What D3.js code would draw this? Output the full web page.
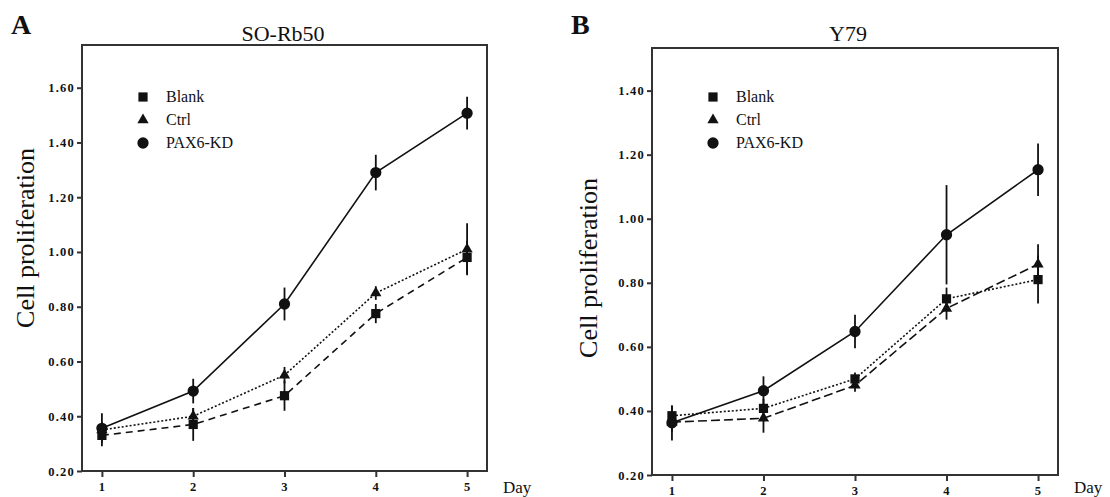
<!DOCTYPE html>
<meta charset="utf-8">
<head>
<style>
  body { margin: 0; background: #fff; }
  text { font-family: "Liberation Serif", "Times New Roman", serif; fill: #111; }
</style>
</head>
<script src="https://d3js.org/d3.v7.min.js"></script>
<body>
<div id="my_dataviz"></div>
<script>
// days on the x axis
var days = [1, 2, 3, 4, 5];
var seriesNames = ["Blank", "Ctrl", "PAX6-KD"];

// panel A: SO-Rb50
var aBlank    = [0.330, 0.370, 0.475, 0.775, 0.980];
var aBlankErr = [0.040, 0.060, 0.055, 0.035, 0.060];
var aCtrl     = [0.350, 0.400, 0.550, 0.850, 1.010];
var aCtrlErr  = [0.030, 0.030, 0.030, 0.025, 0.095];
var aPax      = [0.356, 0.492, 0.810, 1.290, 1.507];
var aPaxErr   = [0.055, 0.045, 0.060, 0.065, 0.060];
var aTicks    = [0.20, 0.40, 0.60, 0.80, 1.00, 1.20, 1.40, 1.60];

// panel B: Y79
var bBlank    = [0.385, 0.408, 0.500, 0.750, 0.810];
var bBlankErr = [0.030, 0.030, 0.020, 0.035, 0.075];
var bCtrl     = [0.365, 0.377, 0.480, 0.720, 0.858];
var bCtrlErr  = [0.030, 0.045, 0.020, 0.035, 0.062];
var bPax      = [0.363, 0.463, 0.648, 0.950, 1.153];
var bPaxErr   = [0.055, 0.045, 0.052, 0.155, 0.082];
var bTicks    = [0.20, 0.40, 0.60, 0.80, 1.00, 1.20, 1.40];

var svg = d3.select("#my_dataviz")
  .append("svg")
    .attr("width", 1110)
    .attr("height", 497);

var symbols = {
  "Blank": d3.symbol().type(d3.symbolSquare).size(85),
  "Ctrl": d3.symbol().type(d3.symbolTriangle).size(55),
  "PAX6-KD": d3.symbol().type(d3.symbolCircle).size(100)
};

function drawPanel(p) {
  var x = d3.scaleLinear().domain([0.782, 5.218]).range([p.left, p.right]);
  var y = d3.scaleLinear().domain(p.yDomain).range([p.bottom, p.top]);

  var g = svg.append("g");

  // panel letter and title
  g.append("text")
    .attr("x", p.letterX).attr("y", 34)
    .style("font-size", "28px").style("font-weight", "bold")
    .text(p.letter);
  g.append("text")
    .attr("x", p.titleX).attr("y", 41)
    .attr("text-anchor", "middle")
    .style("font-size", "22px")
    .text(p.title);

  // frame
  g.append("rect")
    .attr("x", p.left).attr("y", p.top)
    .attr("width", p.right - p.left).attr("height", p.bottom - p.top)
    .attr("fill", "none").attr("stroke", "#333").attr("stroke-width", 2);

  // axes
  var yAxis = g.append("g")
    .attr("transform", "translate(" + p.left + ",0)")
    .call(d3.axisLeft(y).tickValues(p.ticks).tickFormat(d3.format(".2f")).tickSize(5).tickSizeOuter(0));
  var xAxis = g.append("g")
    .attr("transform", "translate(0," + p.bottom + ")")
    .call(d3.axisBottom(x).tickValues(days).tickFormat(d3.format("d")).tickSize(6).tickSizeOuter(0));
  [yAxis, xAxis].forEach(function(a) {
    a.select(".domain").remove();
    a.selectAll(".tick line").attr("stroke", "#333").attr("stroke-width", 2);
    a.selectAll(".tick text")
      .style("font-family", "'Liberation Serif', serif")
      .style("font-size", "12.5px").style("font-weight", "bold")
      .style("letter-spacing", "1.2px").attr("fill", "#222");
  });
  yAxis.selectAll(".tick text").attr("x", -7);
  xAxis.selectAll(".tick text").attr("y", 11);

  g.append("text")
    .attr("x", p.right + 16).attr("y", 493)
    .style("font-size", "17px")
    .text("Day");

  g.append("text")
    .attr("transform", "translate(" + p.labelX + "," + p.labelY + ") rotate(-90)")
    .attr("text-anchor", "middle")
    .style("font-size", "26px")
    .text("Cell proliferation");

  // series
  p.series.forEach(function(s) {
    var pts = days.map(function(d, i) { return {day: d, v: s.values[i], e: s.errs[i]}; });
    g.append("path")
      .datum(pts)
      .attr("fill", "none")
      .attr("stroke", "#111")
      .attr("stroke-width", 1.6)
      .attr("stroke-dasharray", s.dash)
      .attr("d", d3.line().x(function(d) { return x(d.day); }).y(function(d) { return y(d.v); }));

    g.selectAll(null).data(pts).enter().append("line")
      .attr("x1", function(d) { return x(d.day); })
      .attr("x2", function(d) { return x(d.day); })
      .attr("y1", function(d) { return y(d.v - d.e); })
      .attr("y2", function(d) { return y(d.v + d.e); })
      .attr("stroke", "#111").attr("stroke-width", 1.8);

    g.selectAll(null).data(pts).enter().append("path")
      .attr("transform", function(d) { return "translate(" + x(d.day) + "," + y(d.v) + ")"; })
      .attr("d", symbols[s.name])
      .attr("fill", "#111");
  });

  // legend
  seriesNames.forEach(function(name, i) {
    var ly = p.legendY + i * 23;
    g.append("path")
      .attr("transform", "translate(" + p.legendX + "," + ly + ")")
      .attr("d", symbols[name])
      .attr("fill", "#111");
    g.append("text")
      .attr("x", p.legendX + 23).attr("y", ly + 5)
      .style("font-size", "16px")
      .text(name);
  });
}

drawPanel({
  letter: "A", letterX: 11, title: "SO-Rb50", titleX: 283,
  left: 82, right: 487, top: 45, bottom: 471,
  yDomain: [0.2, 1.756], ticks: aTicks,
  labelX: 34, labelY: 238,
  legendX: 143, legendY: 97,
  series: [
    {name: "Blank", values: aBlank, errs: aBlankErr, dash: "7,5"},
    {name: "Ctrl", values: aCtrl, errs: aCtrlErr, dash: "2,2"},
    {name: "PAX6-KD", values: aPax, errs: aPaxErr, dash: null}
  ]
});

drawPanel({
  letter: "B", letterX: 571, title: "Y79", titleX: 848,
  left: 652, right: 1058, top: 48, bottom: 475,
  yDomain: [0.2, 1.533], ticks: bTicks,
  labelX: 597, labelY: 268,
  legendX: 713, legendY: 97,
  series: [
    {name: "Blank", values: bBlank, errs: bBlankErr, dash: "2,2"},
    {name: "Ctrl", values: bCtrl, errs: bCtrlErr, dash: "9,4"},
    {name: "PAX6-KD", values: bPax, errs: bPaxErr, dash: null}
  ]
});
</script>
</body>
